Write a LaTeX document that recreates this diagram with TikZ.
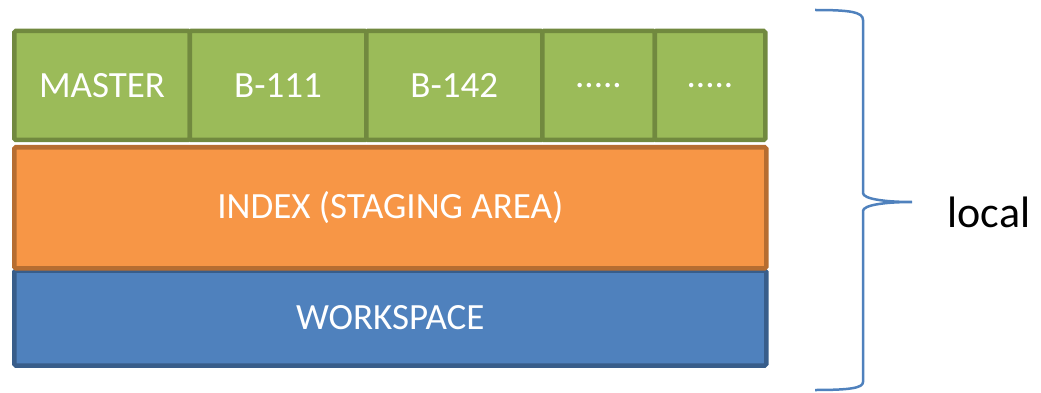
\documentclass[tikz,border=0pt]{standalone}
\usepackage{fontspec}
\setmainfont{Carlito}
\definecolor{gfill}{HTML}{9BBB59}
\definecolor{gline}{HTML}{71893F}
\definecolor{ofill}{HTML}{F79646}
\definecolor{oline}{HTML}{B66D31}
\definecolor{bfill}{HTML}{4F81BD}
\definecolor{bline}{HTML}{385D8A}
\definecolor{bracecol}{HTML}{4F81BD}
\begin{document}
\begin{tikzpicture}[x=1pt,y=-1pt,
  band/.style={rectangle, line width=4.5pt, rounded corners=1.5pt, inner sep=0pt,
    text=white, font=\fontsize{37}{42}\selectfont},
  greenbox/.style={band, fill=gfill, draw=gline, minimum height=109pt},
  orangebox/.style={band, fill=ofill, draw=oline},
  bluebox/.style={band, fill=bfill, draw=bline},
  bracestyle/.style={draw=bracecol, line width=2.5pt},
  labeltext/.style={font=\fontsize{44}{48}\selectfont, text=black}]
\useasboundingbox (0,0) rectangle (1041,393);
% blue workspace
\node[bluebox, minimum width=752pt, minimum height=95pt] (work) at (390.25,318) {WORKSPACE};
% orange index
\node[orangebox, minimum width=752pt, minimum height=121pt] (index) at (390.25,207.75) {INDEX (STAGING AREA)};
% green branches
\node[greenbox, minimum width=175.5pt] (master) at (102,85.5) {MASTER};
\node[greenbox, minimum width=176.5pt] (b111) at (278,85.5) {B-111};
\node[greenbox, minimum width=176pt] (b142) at (454.25,85.5) {B-142};
\node[greenbox, minimum width=112.5pt] (dotsa) at (598.5,85.5) {.....};
\node[greenbox, minimum width=110.5pt] (dotsb) at (710,85.5) {.....};
% brace
\coordinate (btop) at (815,10);
\coordinate (tip) at (912,202);
\coordinate (bbot) at (815,390);
\draw[bracestyle] (btop) .. controls (850,10) and (863,12) .. (863,20)
  -- (863,193) .. controls (863,199) and (885,202) .. (tip)
  .. controls (885,202) and (863,205) .. (863,211)
  -- (863,382) .. controls (863,388) and (850,390) .. (bbot);
\node[labeltext] (local) at (989,212) {local};
\end{tikzpicture}
\end{document}
